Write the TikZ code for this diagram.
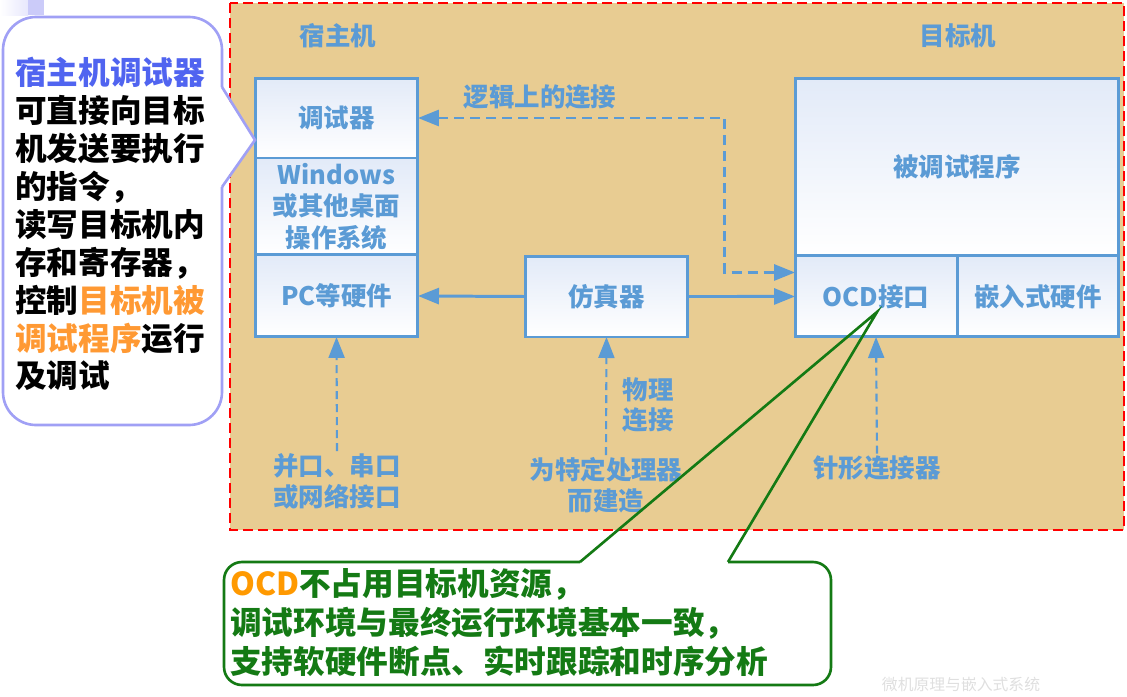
\documentclass[tikz,border=0pt]{standalone}
\usepackage{fontspec}
\setmainfont{Noto Sans CJK SC}
\usetikzlibrary{arrows.meta,positioning}

\definecolor{hostblue}{RGB}{91,155,213}
\definecolor{noteblue}{RGB}{80,100,240}
\definecolor{noteorange}{RGB}{255,153,51}
\definecolor{ocdorange}{RGB}{255,153,0}
\definecolor{notelilac}{RGB}{160,160,245}
\definecolor{paper}{RGB}{232,204,146}
\definecolor{ocdgreen}{RGB}{20,122,20}
\definecolor{boxtint}{RGB}{226,234,248}

\begin{document}
\begin{tikzpicture}[x=0.02cm,y=-0.02cm,>={Triangle[length=0.42cm,width=0.32cm]}]
	\tikzstyle{part}=[draw=hostblue, line width=1.7pt, top color=boxtint, bottom color=white, text=hostblue, font=\bfseries\fontsize{14.5}{18}\selectfont, align=center, outer sep=0pt, inner sep=0pt]
	\tikzstyle{side_text}=[text=hostblue, font=\bfseries\fontsize{14.5}{17.5}\selectfont, align=center, inner sep=1pt]
	\tikzstyle{wire}=[draw=hostblue, line width=1.7pt]
	\tikzstyle{logic}=[wire, dash pattern=on 0.2cm off 0.12cm]
	\tikzstyle{pin}=[wire, line width=1.2pt, dash pattern=on 0.16cm off 0.1cm]
	\tikzstyle{note}=[font=\bfseries\fontsize{18}{21.6}\selectfont, align=left, inner sep=0pt]

	\useasboundingbox (0,0) rectangle (1127,697);

	% corner mark and framed background
	\fill[left color=white, right color=notelilac!25] (0,0) rectangle (28,15);
	\fill[notelilac!55] (28,0) rectangle (44,15);
	\fill[paper] (230,3) rectangle (1124,530);
	\draw[red, line width=1.1pt, dash pattern=on 0.2cm off 0.1cm] (230,3) rectangle (1124,530);

	\begin{scope}
		\node [side_text] (host) at (338,36) {宿主机};
		\node [part, minimum width=3.26cm, minimum height=1.6cm] (dbg) at (336.5,118) {调试器};
		\node [part, minimum width=3.26cm, minimum height=1.94cm] (os) [below=0pt of dbg] {Windows\\或其他桌面\\操作系统};
		\node [part, minimum width=3.26cm, minimum height=1.64cm] (pc) [below=0pt of os] {PC等硬件};
	\end{scope}

	\node [part, minimum width=3.26cm, minimum height=1.62cm] (emu) at (606.5,296.5) {仿真器};

	\begin{scope}
		\node [side_text] (target) at (958,36) {目标机};
		\node [part, minimum width=6.48cm, minimum height=3.56cm] (prog) at (957,167) {被调试程序};
		\node [part, minimum width=3.24cm, minimum height=1.62cm, anchor=north west] (ocd) at (prog.south west) {OCD接口};
		\node [part, minimum width=3.24cm, minimum height=1.62cm] (emb) [right=0pt of ocd] {嵌入式硬件};
	\end{scope}

	% connections
	\draw [wire,->] (emu.west) -- (pc.east);
	\draw [wire,->] (emu.east) -- (ocd.west);
	\draw [logic,<->] (dbg.east) -- ++(6.14cm,0) |- ([yshift=0.48cm]ocd.west);
	\node [side_text] (logic_text) at (540,97) {逻辑上的连接};

	\node [side_text] (port_text) at (337,481) {并口、串口\\或网络接口};
	\node [side_text] (chip_text) at (606,485) {为特定处理器\\而建造};
	\node [side_text] (phys_text) at (648,405) {物理\\连接};
	\node [side_text] (pin_text) at (877,468) {针形连接器};
	\draw [pin,->] (port_text.north) -- (pc.south);
	\draw [pin,->] (chip_text.north) -- (emu.south);
	\draw [pin,->] (pin_text.north) -- (ocd.south);

	% host debugger note
	\coordinate (host_tip) at (255,140);
	\fill[white, rounded corners=0.66cm] (3,17) rectangle (222,425);
	\fill[white] (220,87) -- (host_tip) -- (220,187) -- cycle;
	\draw[notelilac, line width=1.5pt, rounded corners=0.66cm] (222,187) -- (222,425) -- (3,425) -- (3,17) -- (222,17) -- (222,87);
	\draw[notelilac, line width=1.5pt] (222,87) -- (host_tip) -- (222,187);
	\node [note, anchor=west] (host_note) at (15,224) {\textcolor{noteblue}{宿主机调试器}\\可直接向目标\\机发送要执行\\的指令，\\读写目标机内\\存和寄存器，\\控制\textcolor{noteorange}{目标机被}\\\textcolor{noteorange}{调试程序}运行\\及调试};

	% OCD note
	\coordinate (ocd_tip) at (877,312);
	\fill[white, rounded corners=0.36cm] (224,562) rectangle (831,685);
	\draw[ocdgreen, line width=1.5pt, rounded corners=0.36cm] (728,562) -- (831,562) -- (831,685) -- (224,685) -- (224,562) -- (580,562);
	\draw[ocdgreen, line width=1.5pt] (580,562) -- (ocd_tip) -- (728,562);
	\node [note, text=ocdgreen, font=\bfseries\fontsize{18}{22.2}\selectfont, anchor=west] (ocd_note) at (230,623) {\textcolor{ocdorange}{OCD}不占用目标机资源，\\调试环境与最终运行环境基本一致，\\支持软硬件断点、实时跟踪和时序分析};

	\node [text=gray!25, font=\fontsize{9}{9}\selectfont] (mark) at (961,684) {微机原理与嵌入式系统};
\end{tikzpicture}
\end{document}
